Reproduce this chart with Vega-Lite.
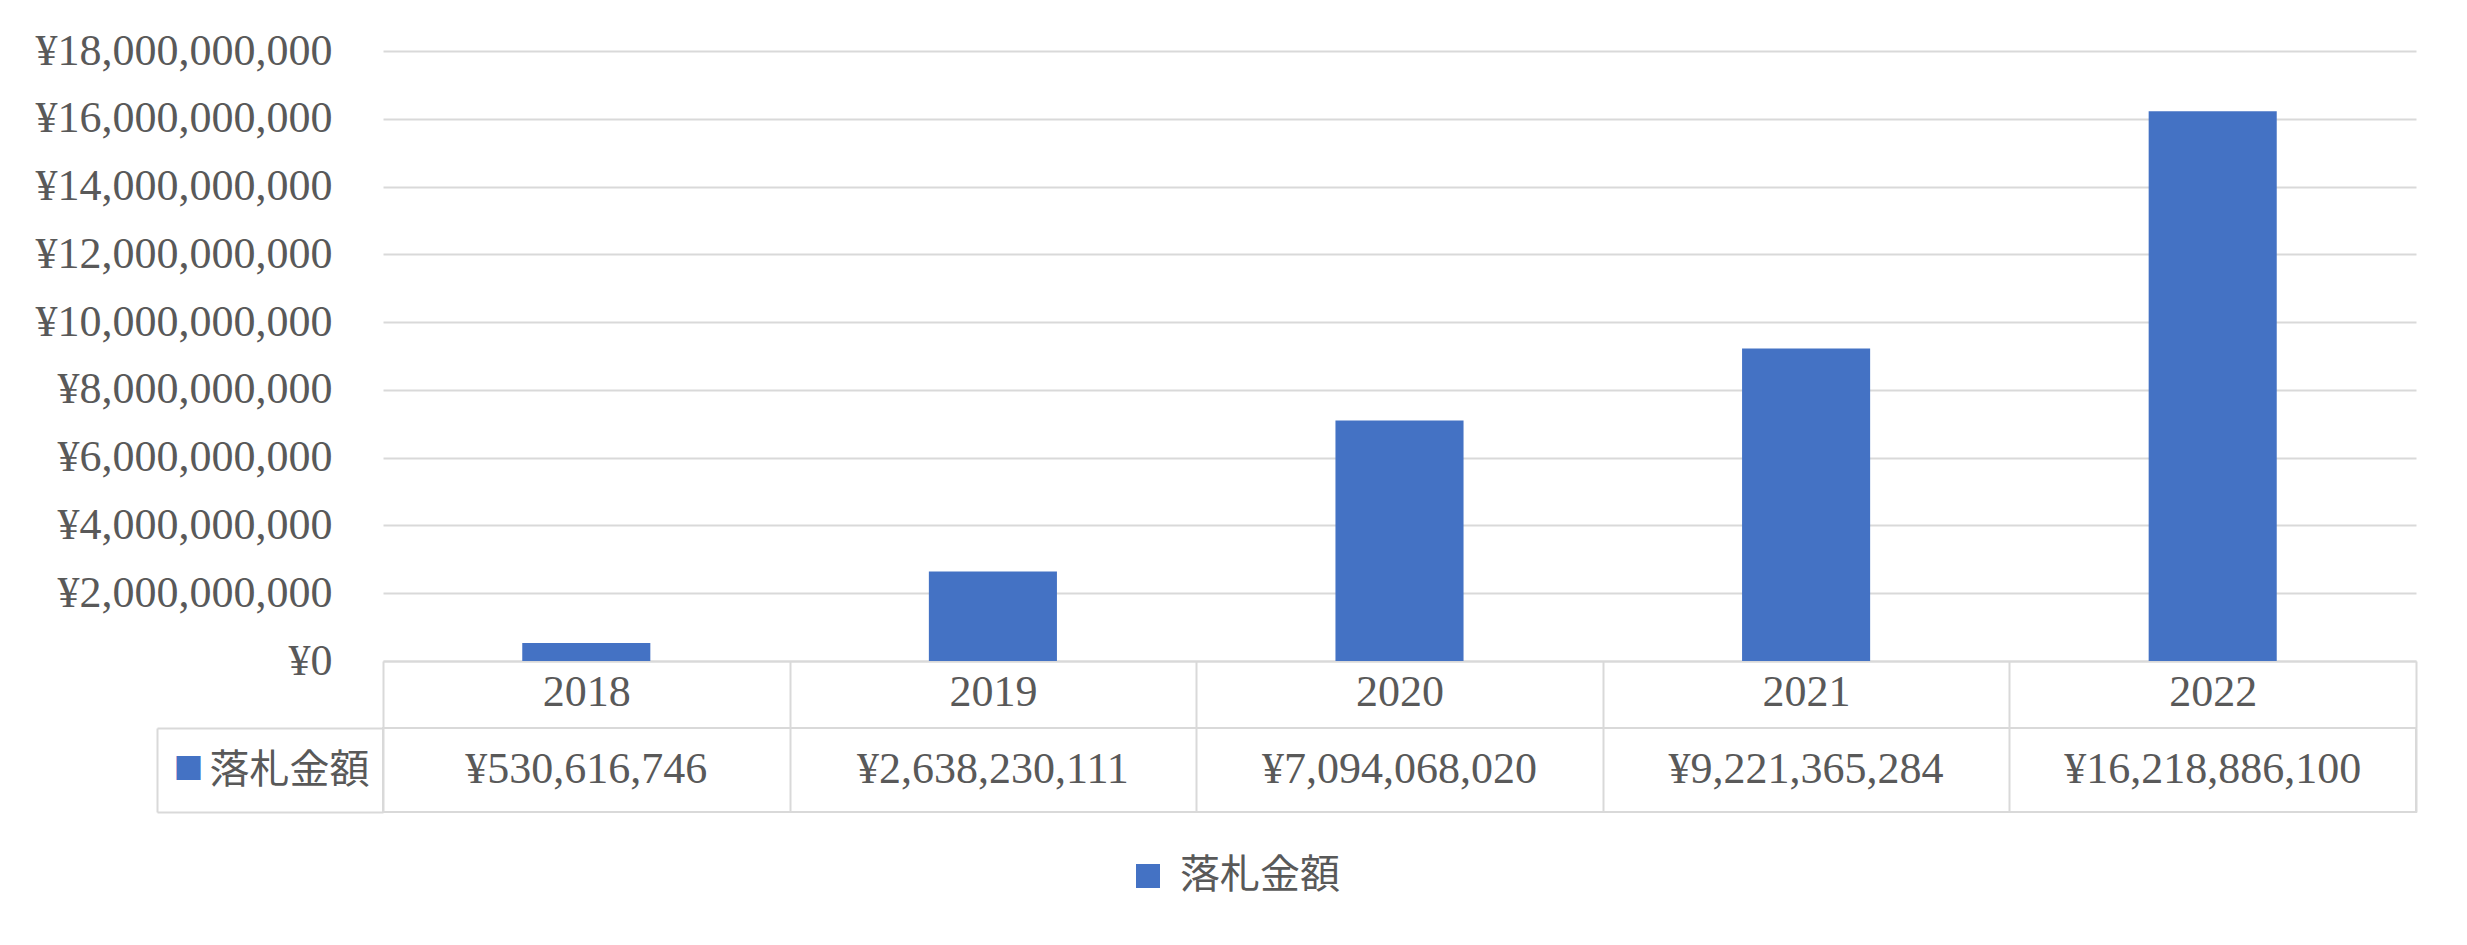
{
  "$schema": "https://vega.github.io/schema/vega-lite/v6.json",
  "background": "white",
  "padding": {"left": 35, "top": 29, "right": 51, "bottom": 50},
  "config": {
    "locale": {"number": {"decimal": ".", "thousands": ",", "grouping": [3], "currency": ["¥", ""]}},
    "font": "Liberation Serif, Noto Sans CJK JP",
    "view": {"stroke": null},
    "axis": {
      "labelColor": "#595959",
      "labelFont": "Liberation Serif, Noto Sans CJK JP",
      "labelFontSize": 44,
      "labelLimit": 0,
      "gridColor": "#d9d9d9",
      "gridWidth": 2,
      "domainColor": "#d9d9d9",
      "domainWidth": 2,
      "tickColor": "#d9d9d9",
      "tickWidth": 2
    },
    "legend": {"labelLimit": 0}
  },
  "data": {"values": [
    {"year": 2018, "amount": 530616746},
    {"year": 2019, "amount": 2638230111},
    {"year": 2020, "amount": 7094068020},
    {"year": 2021, "amount": 9221365284},
    {"year": 2022, "amount": 16218886100}
  ]},
  "spacing": 67,
  "bounds": "flush",
  "vconcat": [
    {
      "width": 2033,
      "height": 610,
      "mark": {"type": "bar", "width": {"band": 0.315}},
      "encoding": {
        "x": {
          "field": "year", "type": "ordinal",
          "scale": {"type": "band", "paddingInner": 0, "paddingOuter": 0},
          "axis": {"title": null, "orient": "bottom", "labelAngle": 0, "tickBand": "extent", "tickSize": 67, "labelPadding": -36, "labelBaseline": "middle", "domain": true, "grid": false}
        },
        "y": {
          "field": "amount", "type": "quantitative",
          "scale": {"domain": [0, 18000000000], "nice": false},
          "axis": {"title": null, "format": "$,.0f", "tickCount": 9, "domain": false, "ticks": false, "labelPadding": 51, "grid": true}
        },
        "color": {
          "datum": "落札金額",
          "scale": {"range": ["#4472C4"]},
          "legend": {"orient": "none", "legendX": 745, "legendY": 805, "title": null, "symbolType": "square", "symbolSize": 576, "symbolStrokeWidth": 0, "labelFontSize": 40, "labelColor": "#595959", "labelFont": "Noto Sans CJK JP", "labelOffset": 12}
        }
      }
    },
    {
      "width": 2033,
      "height": 84,
      "view": {"stroke": "#d9d9d9", "strokeWidth": 2},
      "encoding": {
        "x": {
          "field": "year", "type": "ordinal",
          "scale": {"type": "band", "paddingInner": 0, "paddingOuter": 0},
          "axis": {"orient": "top", "title": null, "grid": true, "tickBand": "extent", "labels": false, "ticks": false, "domain": false}
        }
      },
      "layer": [
        {
          "mark": {"type": "text", "fontSize": 44, "color": "#595959", "font": "Liberation Serif"},
          "encoding": {
            "text": {"field": "amount", "type": "quantitative", "format": "$,.0f"},
            "y": {
              "datum": "落札金額", "type": "nominal",
              "scale": {"type": "band", "paddingInner": 0, "paddingOuter": 0},
              "axis": {"orient": "left", "title": null, "domain": false, "ticks": true, "tickBand": "extent", "tickSize": 226, "labelPadding": -212, "labelFont": "Noto Sans CJK JP", "labelFontSize": 40}
            }
          }
        },
        {
          "mark": {"type": "text", "text": ""},
          "encoding": {
            "y": {
              "datum": "落札金額", "type": "nominal",
              "axis": {"orient": "left", "offset": 226, "title": null, "domain": true, "ticks": false, "labelExpr": "'■'", "labelColor": "#4472C4", "labelFont": "Noto Sans CJK JP", "labelFontSize": 30, "labelAlign": "left", "labelPadding": -16}
            }
          }
        }
      ],
      "resolve": {"axis": {"y": "independent"}}
    }
  ]
}
